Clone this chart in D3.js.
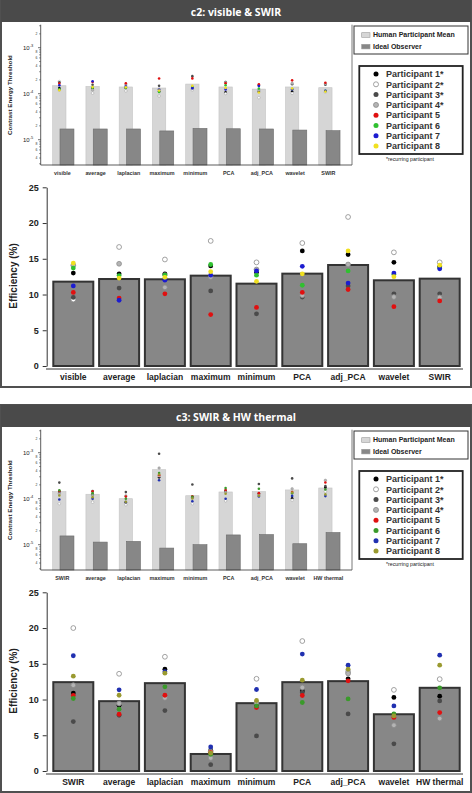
<!DOCTYPE html>
<html><head><meta charset="utf-8">
<script src="https://cdn.jsdelivr.net/npm/d3@7/dist/d3.min.js"></script>
<style>body{margin:0;background:#fff}svg{display:block}text{font-family:Arial,"Liberation Sans",sans-serif}</style>
</head><body>
<svg id="c" width="472" height="793"></svg>
<script>
// ---------- DATA ----------
const participants = ["Participant 1*","Participant 2*","Participant 3*","Participant 4*","Participant 5","Participant 6","Participant 7","Participant 8"];
const legendBars = ["Human Participant Mean","Ideal Observer"];
const recurringNote = "*recurring participant";

const titleC2 = "c2: visible & SWIR";
const categoriesC2 = ["visible","average","laplacian","maximum","minimum","PCA","adj_PCA","wavelet","SWIR"];
const humanMeanC2 = [1.49e-4,1.44e-4,1.40e-4,1.33e-4,1.62e-4,1.40e-4,1.26e-4,1.40e-4,1.35e-4];
const idealC2     = [1.71e-5,1.71e-5,1.71e-5,1.55e-5,1.76e-5,1.73e-5,1.71e-5,1.62e-5,1.57e-5];
// per-participant thresholds (rows = participants 1..8)
const thresholdC2 = [
  [1.32e-4,1.33e-4,1.33e-4,1.11e-4,1.34e-4,1.07e-4,1.10e-4,1.12e-4,1.13e-4],
  [1.84e-4,1.03e-4,1.15e-4,0.89e-4,1.21e-4,1.01e-4,0.82e-4,1.02e-4,1.08e-4],
  [1.78e-4,1.57e-4,1.34e-4,1.48e-4,2.41e-4,1.79e-4,1.53e-4,1.60e-4,1.56e-4],
  [1.21e-4,1.20e-4,1.55e-4,1.25e-4,1.30e-4,1.75e-4,1.20e-4,1.68e-4,1.64e-4],
  [1.66e-4,1.80e-4,1.69e-4,2.14e-4,2.15e-4,1.68e-4,1.60e-4,1.95e-4,1.73e-4],
  [1.25e-4,1.35e-4,1.35e-4,1.09e-4,1.39e-4,1.53e-4,1.29e-4,1.27e-4,1.15e-4],
  [1.53e-4,1.86e-4,1.43e-4,1.22e-4,1.32e-4,1.24e-4,1.47e-4,1.25e-4,1.15e-4],
  [1.19e-4,1.39e-4,1.38e-4,1.17e-4,1.49e-4,1.34e-4,1.06e-4,1.30e-4,1.11e-4]
];
const effMeanC2 = [11.8,12.17,12.13,12.64,11.52,12.92,14.13,11.99,12.22];
const effC2 = [
  [13.0,12.9,12.9,14.0,13.1,16.1,15.6,14.5,13.9],
  [9.3,16.65,14.9,17.5,14.5,17.2,20.85,15.9,14.5],
  [9.6,10.9,12.8,10.5,7.3,9.65,11.2,10.1,10.1],
  [14.1,14.3,11.0,12.45,13.5,9.9,14.2,9.65,9.6],
  [10.3,9.5,10.1,7.2,8.2,10.3,10.7,8.3,9.1],
  [13.7,12.65,12.7,14.2,12.7,11.3,13.3,12.8,13.7],
  [11.2,9.2,12.0,12.7,13.3,13.95,11.6,13.0,13.6],
  [14.4,12.3,12.4,13.2,11.85,12.9,16.1,12.5,14.1]
];
const colorsC2 = ["#000000","#ffffff","#4a4a4a","#b4b4b4","#e01010","#30c030","#1c1cd0","#f0e020"];

const titleC3 = "c3: SWIR & HW thermal";
const categoriesC3 = ["SWIR","average","laplacian","maximum","minimum","PCA","adj_PCA","wavelet","HW thermal"];
const humanMeanC3 = [1.42e-4,1.25e-4,1.00e-4,4.27e-4,1.16e-4,1.40e-4,1.42e-4,1.55e-4,1.71e-4];
const idealC3     = [1.55e-5,1.14e-5,1.18e-5,0.845e-5,1.00e-5,1.63e-5,1.66e-5,1.05e-5,1.84e-5];
const thresholdC3 = [
  [1.42e-4,1.24e-4,0.83e-4,2.91e-4,1.08e-4,1.46e-4,1.29e-4,1.02e-4,1.76e-4],
  [0.78e-4,0.84e-4,0.74e-4,3.13e-4,0.78e-4,0.90e-4,1.19e-4,0.93e-4,1.43e-4],
  [2.24e-4,1.46e-4,1.39e-4,9.49e-4,2.04e-4,1.48e-4,2.08e-4,2.76e-4,1.88e-4],
  [1.29e-4,1.21e-4,1.15e-4,4.64e-4,1.05e-4,1.40e-4,1.22e-4,1.64e-4,2.51e-4],
  [1.47e-4,1.44e-4,1.11e-4,3.25e-4,1.13e-4,1.54e-4,1.32e-4,1.40e-4,2.25e-4],
  [1.53e-4,1.32e-4,1.00e-4,3.61e-4,1.10e-4,1.70e-4,1.65e-4,1.31e-4,1.58e-4],
  [0.96e-4,1.00e-4,0.85e-4,2.51e-4,0.88e-4,1.00e-4,1.12e-4,1.15e-4,1.14e-4],
  [1.17e-4,1.08e-4,0.86e-4,3.35e-4,1.01e-4,1.28e-4,1.16e-4,1.36e-4,1.24e-4]
];
const effMeanC3 = [12.43,9.77,12.29,2.38,9.49,12.43,12.57,7.94,11.64];
const effC3 = [
  [10.9,9.2,14.25,2.9,9.3,11.2,12.9,10.3,10.47],
  [20.0,13.6,15.98,2.7,12.9,18.18,13.9,11.35,12.85],
  [6.92,7.8,8.46,0.89,4.9,10.98,7.99,3.8,9.8],
  [12.0,9.44,10.23,1.82,9.53,11.68,13.64,6.4,7.34],
  [10.56,7.94,10.6,2.6,8.88,10.56,12.62,7.5,8.18],
  [10.14,8.64,11.78,2.34,9.11,9.58,10.09,8.0,11.64],
  [16.12,11.36,13.9,3.36,11.4,16.36,14.81,9.1,16.2],
  [13.27,10.6,13.69,2.52,9.86,12.71,14.25,7.7,14.81]
];
const colorsC3 = ["#000000","#ffffff","#4a4a4a","#b4b4b4","#e01010","#3a9a2a","#2030b0","#9a9a30"];

const effTicks = [0,5,10,15,20,25];
const logMajorTicks = [1e-5,1e-4,1e-3];

// ---------- DRAW ----------
const svg = d3.select("#c");

function strokeFor(c){ return (c==="#ffffff"||c==="#b4b4b4") ? "#8a8a8a" : "none"; }

function drawPanel(oy, title, cats, human, ideal, thr, effMean, eff, colors){
  const g = svg.append("g").attr("transform", `translate(0,${oy})`);
  // panel frame + header
  g.append("rect").attr("x",1).attr("y",0).attr("width",470).attr("height",387)
    .attr("fill","#fff").attr("stroke","#505050").attr("stroke-width",2);
  g.append("rect").attr("x",1).attr("y",0).attr("width",470).attr("height",22).attr("fill","#4a4a4a");
  g.append("text").attr("x",236).attr("y",15.5).attr("text-anchor","middle")
    .attr("fill","#fff").attr("font-weight","bold").attr("font-size",10.5)
    .style("font-family","'Open Sans',Arial,sans-serif").text(title);

  // ---- log threshold chart ----
  const yL = d3.scaleLog().domain([Math.pow(10,-5.55), Math.pow(10,-2.5)]).range([165, 24.7]);
  const xP = d3.scalePoint().domain(cats).range([40.7, 352]).padding(0.68);
  const st = xP.step();
  const lw = st*0.40, dOff = st*0.10, dw = st*0.42, lOff = -st*0.32;
  const base = yL.range()[0];

  g.selectAll(".hb").data(cats).join("rect")
    .attr("x", d=>xP(d)+lOff).attr("width", lw)
    .attr("y", (d,i)=>yL(human[i])).attr("height",(d,i)=>base-yL(human[i]))
    .attr("fill","#d6d6d6").attr("stroke","#c4c4c4").attr("stroke-width",0.6);
  g.selectAll(".ib").data(cats).join("rect")
    .attr("x", d=>xP(d)-dOff).attr("width", dw)
    .attr("y", (d,i)=>yL(ideal[i])).attr("height",(d,i)=>base-yL(ideal[i]))
    .attr("fill","#878787").attr("stroke","#6c6c6c").attr("stroke-width",0.6);
  // participant thresholds
  thr.forEach((row,p)=>{
    g.selectAll(null).data(row).join("circle")
      .attr("cx",(d,i)=>xP(cats[i])+lOff+lw/2).attr("cy",d=>yL(d)).attr("r",1.3)
      .attr("fill",colors[p]).attr("stroke",strokeFor(colors[p])).attr("stroke-width",0.4);
  });
  // frame lines
  g.append("line").attr("x1",40.7).attr("x2",40.7).attr("y1",24.7).attr("y2",165).attr("stroke","#333").attr("stroke-width",0.8);
  g.append("line").attr("x1",40.7).attr("x2",352).attr("y1",165).attr("y2",165).attr("stroke","#333").attr("stroke-width",0.8);
  g.append("line").attr("x1",352).attr("x2",352).attr("y1",24.7).attr("y2",165).attr("stroke","#555").attr("stroke-width",0.8);
  // y ticks
  const minor = [];
  [-6,-5,-4,-3].forEach(e=>{ for(let m=2;m<=9;m++){ const v=m*Math.pow(10,e); if(v>yL.domain()[0]&&v<yL.domain()[1]) minor.push({v,m}); }});
  g.selectAll(".mt").data(minor).join("line")
    .attr("x1",39).attr("x2",40.7).attr("y1",d=>yL(d.v)).attr("y2",d=>yL(d.v)).attr("stroke","#333").attr("stroke-width",0.5);
  g.selectAll(".ml").data(minor.filter(d=>d.m%2===0)).join("text")
    .attr("x",37.5).attr("y",d=>yL(d.v)+1.2).attr("text-anchor","end").attr("font-size",3.4).attr("fill","#333").text(d=>d.m);
  logMajorTicks.forEach(v=>{
    const y=yL(v);
    g.append("line").attr("x1",38).attr("x2",40.7).attr("y1",y).attr("y2",y).attr("stroke","#333").attr("stroke-width",0.7);
    const t=g.append("text").attr("x",23).attr("y",y+2).attr("font-size",6).attr("fill","#222");
    t.append("tspan").text("10");
    t.append("tspan").attr("dy",-2.5).attr("font-size",4).text(String(Math.round(Math.log10(v))));
  });
  g.append("text").attr("transform","translate(12,95) rotate(-90)").attr("text-anchor","middle")
    .attr("font-size",6.2).attr("font-weight","bold").attr("fill","#222").text("Contrast Energy Threshold");
  g.selectAll(".xl").data(cats).join("text")
    .attr("x",d=>xP(d)-1).attr("y",174.5).attr("text-anchor","middle").attr("font-size",5.4)
    .attr("font-weight","bold").attr("fill","#333").text(d=>d);

  // ---- legend boxes ----
  g.append("rect").attr("x",354).attr("y",26).attr("width",114).attr("height",28).attr("fill","#fff").attr("stroke","#333").attr("stroke-width",1);
  legendBars.forEach((s,i)=>{
    const y = 32.7 + i*11.6;
    g.append("rect").attr("x",361.7).attr("y",y).attr("width",8.3).attr("height",4.6)
      .attr("fill", i===0?"#d6d6d6":"#878787").attr("stroke","#999").attr("stroke-width",0.6);
    g.append("text").attr("x",373).attr("y",y+4.6).attr("font-size",7).attr("font-weight","bold").attr("fill","#222").text(s);
  });
  g.append("rect").attr("x",359.3).attr("y",66).attr("width",103.4).attr("height",88).attr("fill","#fff").attr("stroke","#222").attr("stroke-width",1.8);
  participants.forEach((s,i)=>{
    const y = 74 + i*10.3;
    g.append("circle").attr("cx",376).attr("cy",y).attr("r",2.5).attr("fill",colors[i])
      .attr("stroke",strokeFor(colors[i])).attr("stroke-width",0.8);
    g.append("text").attr("x",386).attr("y",y+3.2).attr("font-size",9).attr("font-weight","bold").attr("fill","#333").text(s);
  });
  g.append("text").attr("x",410).attr("y",161).attr("text-anchor","middle").attr("font-size",5.2).attr("fill","#222").text(recurringNote);

  // ---- efficiency chart ----
  const yE = d3.scaleLinear().domain([0,25]).range([366, 187.3]);
  const xB = d3.scaleBand().domain(cats).range([47, 466]).paddingInner(0.1266).paddingOuter(0.1376);
  g.selectAll(".eb").data(cats).join("rect")
    .attr("x",d=>xB(d)).attr("width",xB.bandwidth())
    .attr("y",(d,i)=>yE(effMean[i])).attr("height",(d,i)=>yE(0)-yE(effMean[i]))
    .attr("fill","#878787").attr("stroke","#333").attr("stroke-width",2);
  eff.forEach((row,p)=>{
    g.selectAll(null).data(row).join("circle")
      .attr("cx",(d,i)=>xB(cats[i])+xB.bandwidth()/2).attr("cy",d=>yE(d)).attr("r",2.4)
      .attr("fill",colors[p]).attr("stroke",strokeFor(colors[p])).attr("stroke-width",0.8);
  });
  const ya = g.append("g").attr("transform","translate(46.7,0)")
    .call(d3.axisLeft(yE).tickValues(effTicks).tickSize(4).tickSizeOuter(0).tickPadding(4));
  ya.select(".domain").attr("stroke","#333");
  ya.selectAll(".tick line").attr("stroke","#333");
  ya.selectAll("text").attr("font-size",9).attr("font-weight","bold").attr("fill","#222").style("font-family","Arial,sans-serif");
  g.append("line").attr("x1",46).attr("x2",463).attr("y1",369).attr("y2",369).attr("stroke","#333").attr("stroke-width",1);
  g.selectAll(".ex").data(cats).join("text")
    .attr("x",d=>xB(d)+xB.bandwidth()/2).attr("y",379.5).attr("text-anchor","middle")
    .attr("font-size",8.5).attr("font-weight","bold").attr("fill","#222").text(d=>d);
  g.append("text").attr("transform","translate(17,276) rotate(-90)").attr("text-anchor","middle")
    .attr("font-size",10).attr("font-weight","bold").attr("fill","#222").text("Efficiency (%)");
}

drawPanel(0, titleC2, categoriesC2, humanMeanC2, idealC2, thresholdC2, effMeanC2, effC2, colorsC2);
drawPanel(405, titleC3, categoriesC3, humanMeanC3, idealC3, thresholdC3, effMeanC3, effC3, colorsC3);
</script>
</body></html>
